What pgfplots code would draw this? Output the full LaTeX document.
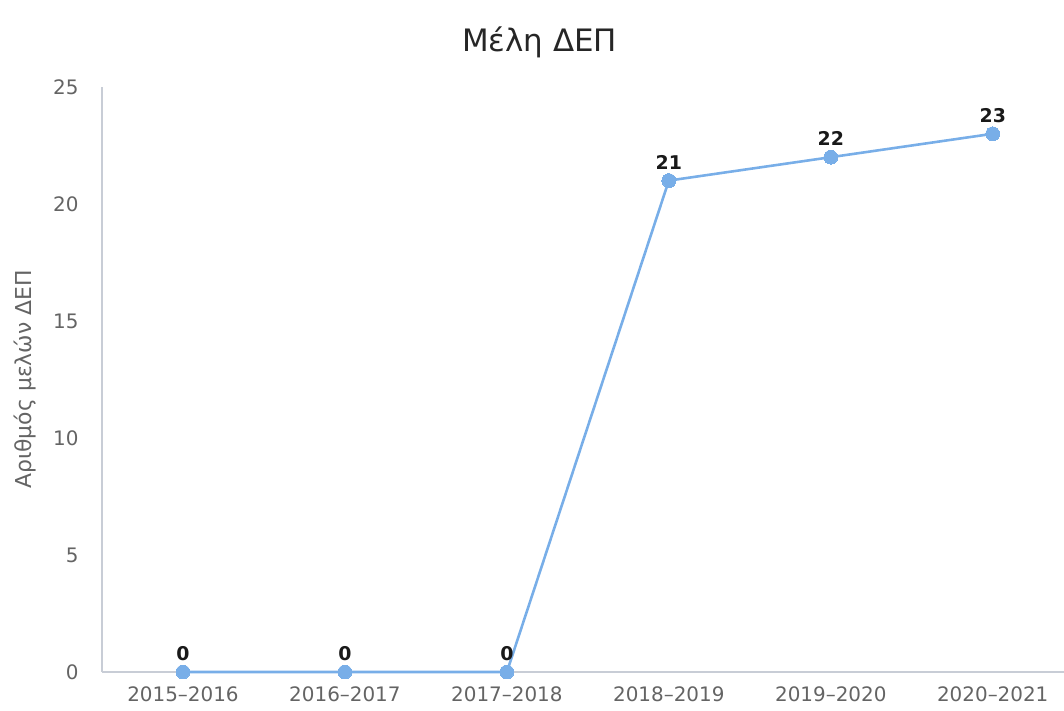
\documentclass[border=0pt]{standalone}
\usepackage{pgfplots}
\pgfplotsset{compat=1.18}
\usepackage{fontspec}
\setmainfont{DejaVu Sans}
\definecolor{linec}{RGB}{120,174,232}
\definecolor{axc}{RGB}{200,205,214}
\definecolor{tickc}{RGB}{100,100,100}
\begin{document}
\begin{tikzpicture}[x=1bp,y=1bp]
\useasboundingbox (-102,-39) rectangle (962,672);
\begin{axis}[
  at={(0,0)}, anchor=south west,
  scale only axis,
  width=962bp, height=585bp,
  xmin=-0.5, xmax=5.44,
  ymin=0, ymax=25,
  ytick={0,5,10,15,20,25},
  xtick={0,1,2,3,4,5},
  xticklabels={2015–2016,2016–2017,2017–2018,2018–2019,2019–2020,2020–2021},
  axis x line*=bottom, axis y line*=left,
  axis line style={axc, line width=1.2pt, -},
  major tick length=0pt,
  tick style={draw=none},
  ticklabel style={font=\fontsize{20}{24}\selectfont, text=tickc},
  /pgf/number format/assume math mode=true,
  yticklabel style={xshift=-20bp},
  xticklabel style={yshift=-11bp},
  ylabel={Αριθμός μελών ΔΕΠ},
  ylabel style={font=\fontsize{22}{26}\selectfont, text=tickc, at={(axis description cs:0,0.5)}, anchor=south, yshift=62bp},
  title={Μέλη ΔΕΠ},
  title style={font=\fontsize{31}{36}\selectfont, text=black!85, at={(axis description cs:0.455,1)}, anchor=south, yshift=20bp},
  clip=false,
  nodes near coords,
  every node near coord/.append style={font=\bfseries\fontsize{19}{23}\selectfont, text=black!90, anchor=south, yshift=8bp},
]
\addplot[color=linec, line width=2.6pt, mark=*, mark size=7pt, mark options={fill=linec, draw=linec, line width=0pt}]
coordinates {(0,0) (1,0) (2,0) (3,21) (4,22) (5,23)};
\end{axis}
\end{tikzpicture}
\end{document}
